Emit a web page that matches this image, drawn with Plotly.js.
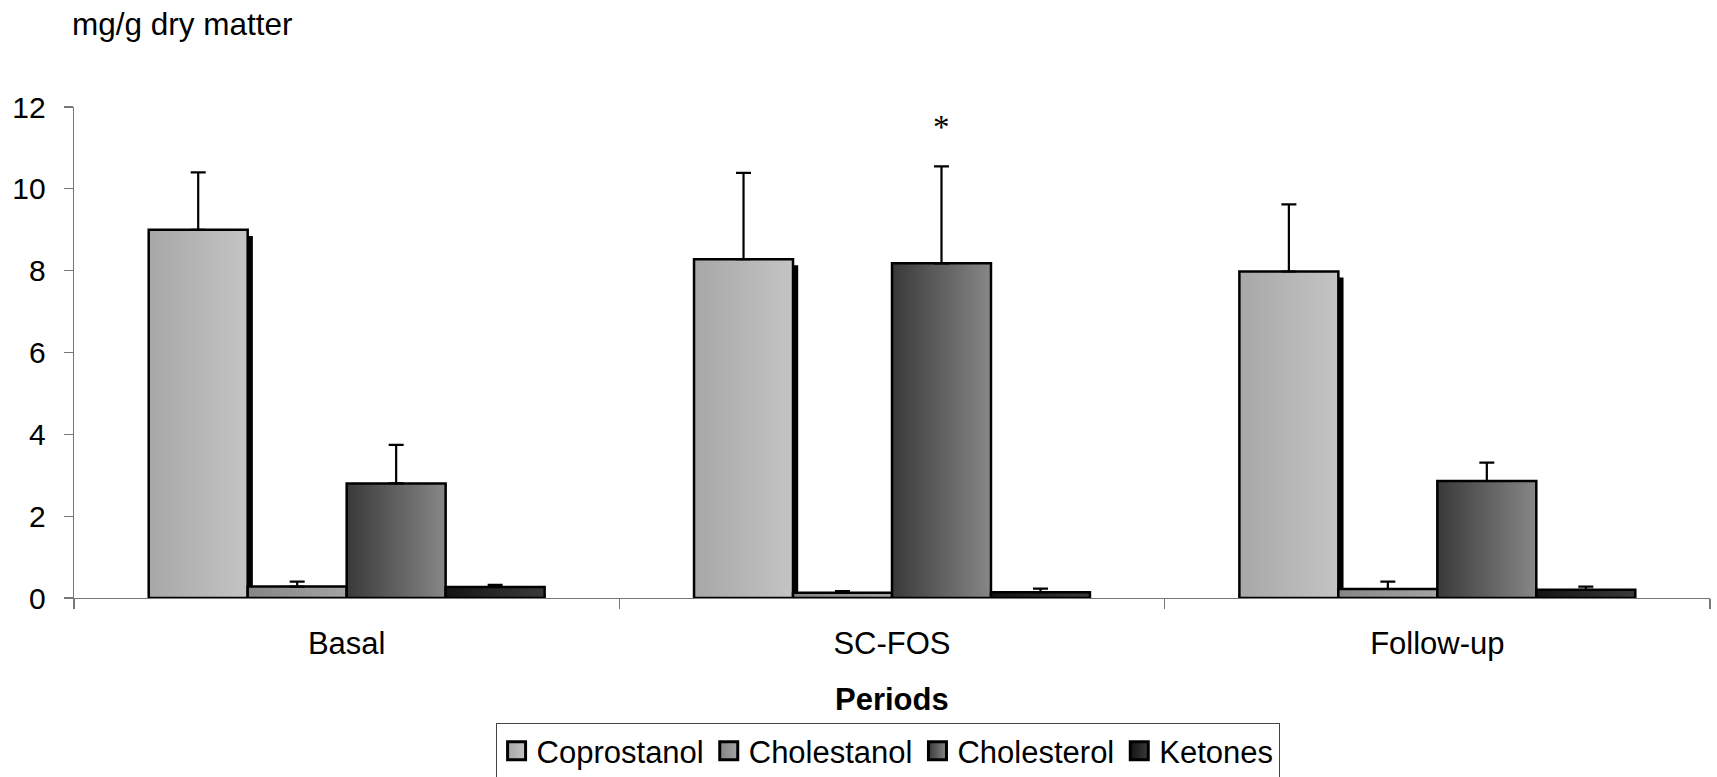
<!DOCTYPE html>
<html>
<head>
<meta charset="utf-8">
<script src="https://cdn.plot.ly/plotly-3.0.1.min.js"></script>
<style>
  html, body { margin: 0; padding: 0; background: #fff; }
  #chart { width: 1717px; height: 777px; }
</style>
</head>
<body>
<div id="chart"></div>
<script>
// ---- data ----
var periods = ["Basal", "SC-FOS", "Follow-up"];
var seriesNames = ["Coprostanol", "Cholestanol", "Cholesterol", "Ketones"];

var coprostanol      = [9.00, 8.28, 7.98];
var coprostanolSD    = [1.40, 2.11, 1.64];
var cholestanol      = [0.28, 0.13, 0.22];
var cholestanolSD    = [0.12, 0.04, 0.18];
var cholesterol      = [2.80, 8.18, 2.86];
var cholesterolSD    = [0.94, 2.37, 0.45];
var ketones          = [0.27, 0.14, 0.20];
var ketonesSD        = [0.05, 0.09, 0.08];

var yTickVals = [0, 2, 4, 6, 8, 10, 12];
var yTitle = "mg/g dry matter";
var xTitle = "Periods";
var significanceMark = "*";
var significanceValue = 11.52;   // height of the asterisk above SC-FOS cholesterol

// ---- styling ----
var FONT = "Liberation Sans, Arial, Helvetica, sans-serif";
var barW = 0.1815;
var offsets = [-2 * barW, -barW, 0, barW];
var means = [coprostanol, cholestanol, cholesterol, ketones];
var sds = [coprostanolSD, cholestanolSD, cholesterolSD, ketonesSD];
var baseColors = ["#b6b6b6", "#959595", "#606060", "#262626"];
var gradStops = [
  ["#a7a7a7", "#c4c4c4"],
  ["#858585", "#a4a4a4"],
  ["#393939", "#878787"],
  ["#141414", "#3a3a3a"]
];

var traces = [];
// shadow strip at the right side of the coprostanol bars
traces.push({
  type: "bar",
  x: periods,
  y: coprostanol,
  base: -0.15,
  offset: offsets[0] + barW,
  width: 0.0095,
  marker: { color: "#000", line: { width: 0 } },
  showlegend: false,
  hoverinfo: "skip"
});

for (var i = 0; i < 4; i++) {
  traces.push({
    type: "bar",
    name: seriesNames[i],
    x: periods,
    y: means[i],
    offset: offsets[i],
    width: barW,
    marker: { color: baseColors[i], line: { color: "#000", width: 2.5 } },
    error_y: {
      type: "data",
      symmetric: false,
      array: sds[i],
      arrayminus: [0, 0, 0],
      color: "#000",
      thickness: 2.2,
      width: 7.5
    }
  });
}

var layout = {
  width: 1717,
  height: 777,
  margin: { l: 74, r: 7, t: 107, b: 179, autoexpand: false },
  paper_bgcolor: "#fff",
  plot_bgcolor: "#fff",
  barmode: "overlay",
  font: { family: FONT, size: 31, color: "#000" },
  xaxis: {
    type: "category",
    range: [-0.5, 2.5],
    tickson: "boundaries",
    ticks: "outside",
    ticklen: 10,
    tickwidth: 1.3,
    tickcolor: "#777",
    showline: true,
    linecolor: "#777",
    linewidth: 1.3,
    showgrid: false,
    zeroline: false,
    tickfont: { family: FONT, size: 31, color: "#000" },
    ticklabelstandoff: 17
  },
  yaxis: {
    range: [0, 12],
    tickvals: yTickVals,
    ticktext: yTickVals.map(String),
    ticks: "outside",
    ticklen: 9,
    tickwidth: 1.3,
    tickcolor: "#777",
    showline: true,
    linecolor: "#777",
    linewidth: 1.3,
    showgrid: false,
    zeroline: false,
    tickfont: { family: FONT, size: 30, color: "#000" },
    ticklabelstandoff: 12
  },
  legend: {
    orientation: "h",
    x: 0.4973,
    xanchor: "center",
    y: -0.2546,
    yanchor: "top",
    bgcolor: "#fff",
    bordercolor: "#444",
    borderwidth: 1,
    font: { family: FONT, size: 31, color: "#000" },
    traceorder: "normal"
  },
  annotations: [
    {
      text: yTitle, xref: "paper", yref: "paper",
      x: -0.0025, xanchor: "left", y: 1.169, yanchor: "middle",
      showarrow: false, font: { family: FONT, size: 31.5, color: "#000" }
    },
    {
      text: "<b>" + xTitle + "</b>", xref: "paper", yref: "paper",
      x: 0.5, xanchor: "center", y: -0.2067, yanchor: "middle",
      showarrow: false, font: { family: FONT, size: 31, color: "#000" }
    },
    {
      text: significanceMark, xref: "x", yref: "y",
      x: periods[1], xshift: 49.5, y: significanceValue, yanchor: "middle",
      showarrow: false, font: { family: "Liberation Serif, Times New Roman, serif", size: 33, color: "#000" }
    }
  ],
  showlegend: true
};

Plotly.newPlot("chart", traces, layout, { displayModeBar: false, staticPlot: true }).then(function (gd) {
  var svg = gd.querySelector(".main-svg");
  var ns = "http://www.w3.org/2000/svg";
  var defs = document.createElementNS(ns, "defs");
  gradStops.forEach(function (st, k) {
    var lg = document.createElementNS(ns, "linearGradient");
    lg.setAttribute("id", "barGrad" + k);
    lg.setAttribute("x1", "0"); lg.setAttribute("y1", "0");
    lg.setAttribute("x2", "1"); lg.setAttribute("y2", "0");
    var s1 = document.createElementNS(ns, "stop");
    s1.setAttribute("offset", "0"); s1.setAttribute("stop-color", st[0]);
    var s2 = document.createElementNS(ns, "stop");
    s2.setAttribute("offset", "1"); s2.setAttribute("stop-color", st[1]);
    lg.appendChild(s1); lg.appendChild(s2);
    defs.appendChild(lg);
  });
  svg.insertBefore(defs, svg.firstChild);

  var barTraces = gd.querySelectorAll(".barlayer .trace");
  barTraces.forEach(function (t, idx) {
    if (idx === 0) return; // shadow
    t.querySelectorAll(".point path").forEach(function (p) {
      p.style.fill = "url(#barGrad" + (idx - 1) + ")";
    });
  });
  var legItems = gd.querySelectorAll(".legend .traces");
  legItems.forEach(function (it, k) {
    it.querySelectorAll(".legendpoints path").forEach(function (p) {
      p.style.fill = "url(#barGrad" + k + ")";
      p.style.strokeWidth = "2px";
      var tr = p.getAttribute("transform") || "";
      p.setAttribute("transform", tr + " scale(1.5)");
    });
  });
});
</script>
</body>
</html>
